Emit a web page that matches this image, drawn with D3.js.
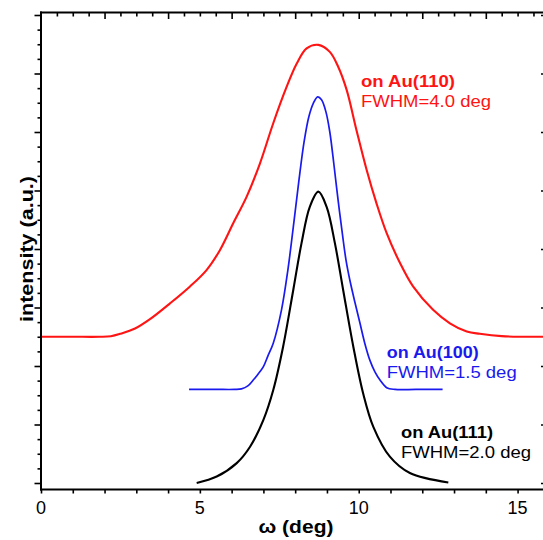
<!DOCTYPE html>
<html>
<head>
<meta charset="utf-8">
<script src="https://cdn.jsdelivr.net/npm/d3@7"></script>
<style>
  body { margin: 0; background: #fff; }
  svg { display: block; }
</style>
</head>
<body>
<div id="chart"></div>
<script>
// rocking curves, omega in deg vs intensity (a.u., offset per substrate)
var au110 = [
    [0, 2.50], [1.0, 2.50], [1.86, 2.50], [2.2, 2.51], [2.49, 2.55], [2.96, 2.64], [3.43, 2.80],
    [4.06, 3.07], [4.69, 3.36], [5.21, 3.64], [5.63, 3.98], [6.05, 4.44], [6.47, 4.89],
    [6.89, 5.46], [7.31, 6.15], [7.73, 6.77], [8.05, 7.17], [8.36, 7.43], [8.73, 7.49],
    [9.09, 7.37], [9.35, 7.12], [9.62, 6.72], [9.93, 6.03], [10.25, 5.35], [10.56, 4.78],
    [10.88, 4.27], [11.30, 3.76], [11.71, 3.36], [12.34, 2.96], [12.87, 2.73], [13.40, 2.59],
    [13.81, 2.55], [14.5, 2.51], [15.8, 2.50]
];
var au100 = [
    [4.66, 1.60], [5.5, 1.60], [6.1, 1.60], [6.31, 1.61], [6.51, 1.66], [6.68, 1.76], [6.83, 1.86],
    [7.00, 1.99], [7.14, 2.17], [7.31, 2.39], [7.57, 2.96], [7.77, 3.64], [7.96, 4.46],
    [8.12, 5.18], [8.28, 5.83], [8.43, 6.26], [8.57, 6.49], [8.71, 6.60], [8.83, 6.55],
    [8.97, 6.34], [9.09, 6.00], [9.22, 5.44], [9.35, 4.84], [9.49, 4.24], [9.60, 3.81],
    [9.72, 3.47], [9.88, 3.09], [10.04, 2.73], [10.19, 2.39], [10.35, 2.10], [10.51, 1.90],
    [10.67, 1.76], [10.88, 1.63], [11.14, 1.60], [11.8, 1.60], [12.64, 1.60]
];
var au111 = [
    [4.90, 0.00], [5.53, 0.11], [6.16, 0.34], [6.58, 0.62], [7.00, 1.08], [7.31, 1.59],
    [7.62, 2.33], [7.94, 3.30], [8.20, 4.10], [8.46, 4.72], [8.73, 4.98], [8.99, 4.72],
    [9.25, 4.10], [9.51, 3.30], [9.83, 2.33], [10.14, 1.53], [10.46, 0.96], [10.98, 0.45],
    [11.61, 0.17], [12.82, 0.01]
];

var xLabelTicks = [0, 5, 10, 15];
var xBottomTicks = d3.range(0, 16, 1);
var xTopTicks = d3.range(0.5, 16, 0.5);
var yMinorTicks = d3.range(0, 8.01, 0.25);
var yMajorTicks = d3.range(0, 9, 1);

var seriesNames = ["au110", "au100", "au111"];
var seriesColors = ["#ff1414", "#1a1aee", "#000000"];
var labelTitles = ["on Au(110)", "on Au(100)", "on Au(111)"];
var labelFwhm = ["FWHM=4.0 deg", "FWHM=1.5 deg", "FWHM=2.0 deg"];

var width = 543;
var height = 540;
var padLeft = 41, padTop = 12.5, axisBottom = 489.5;
var font = "Arial, 'Liberation Sans', sans-serif";

var svg = d3.select("#chart")
    .append("svg")
    .attr("width", width)
    .attr("height", height);

var x = d3.scaleLinear().domain([0, 15.8]).range([padLeft, 543]);
var y = d3.scaleLinear().domain([0, 8]).range([483, 15]);

// ticks
svg.append("g")
    .attr("transform", `translate(0, ${axisBottom})`)
    .call(d3.axisBottom(x).tickValues(xBottomTicks).tickSize(4).tickFormat(""))
    .call(g => g.select(".domain").remove())
    .call(g => g.selectAll("line").attr("stroke-width", 1.6));

svg.append("g")
    .attr("transform", `translate(0, ${padTop})`)
    .call(d3.axisBottom(x).tickValues(xTopTicks).tickSize(4).tickFormat(""))
    .call(g => g.select(".domain").remove())
    .call(g => g.selectAll(".tick line")
        .attr("y2", d => d % 2 === 0 ? 6.5 : 4)
        .attr("stroke-width", 1.6));

svg.append("g")
    .attr("transform", `translate(${padLeft}, 0)`)
    .call(d3.axisLeft(y).tickValues(yMinorTicks).tickSize(3).tickFormat(""))
    .call(g => g.select(".domain").remove())
    .call(g => g.selectAll(".tick line")
        .attr("x2", d => Math.abs(d - Math.round(d)) < 0.01 ? -6.5 : -3.5)
        .attr("stroke-width", 1.6));

svg.append("g")
    .attr("transform", `translate(544, 0)`)
    .call(d3.axisRight(y).tickValues(yMajorTicks).tickSize(-3).tickFormat(""))
    .call(g => g.select(".domain").remove())
    .call(g => g.selectAll("line").attr("stroke-width", 1.6));

// tick labels
svg.selectAll("text.xtick")
    .data(xLabelTicks)
    .enter()
    .append("text")
    .attr("class", "xtick")
    .attr("x", d => x(d))
    .attr("y", 514)
    .attr("text-anchor", "middle")
    .attr("font-family", font)
    .attr("font-size", "18px")
    .text(d => d);

// axis titles
svg.append("text")
    .attr("x", 296)
    .attr("y", 533)
    .attr("text-anchor", "middle")
    .attr("font-family", font)
    .attr("font-weight", "bold")
    .attr("font-size", "19px")
    .attr("textLength", 75)
    .attr("lengthAdjust", "spacingAndGlyphs")
    .text("ω (deg)");

svg.append("text")
    .attr("transform", "rotate(-90)")
    .attr("x", -249)
    .attr("y", 33)
    .attr("text-anchor", "middle")
    .attr("font-family", font)
    .attr("font-weight", "bold")
    .attr("font-size", "19px")
    .attr("textLength", 146)
    .attr("lengthAdjust", "spacingAndGlyphs")
    .text("intensity (a.u.)");

// curves
var lineGen = d3.line()
    .x(d => x(d[0]))
    .y(d => y(d[1]))
    .curve(d3.curveCatmullRom.alpha(0.5));

var seriesData = [au110, au100, au111];
seriesData.forEach(function (data, i) {
    svg.append("path")
        .datum(data)
        .attr("class", seriesNames[i])
        .attr("fill", "none")
        .attr("stroke", seriesColors[i])
        .attr("stroke-width", i === 1 ? 1.7 : 2.1)
        .attr("stroke-linejoin", "round")
        .attr("d", lineGen);
});

// labels next to each curve
var labelPos = [[361, 86.7], [386.7, 358.3], [401, 438.3]];
var titleLen = [94, 92, 92];
labelTitles.forEach(function (t, i) {
    svg.append("text")
        .attr("x", labelPos[i][0])
        .attr("y", labelPos[i][1])
        .attr("font-family", font)
        .attr("font-weight", "bold")
        .attr("font-size", "16.5px")
        .attr("fill", seriesColors[i])
        .attr("textLength", titleLen[i])
        .attr("lengthAdjust", "spacingAndGlyphs")
        .text(t);
    svg.append("text")
        .attr("x", labelPos[i][0])
        .attr("y", labelPos[i][1] + 20)
        .attr("font-family", font)
        .attr("font-size", "16.5px")
        .attr("fill", seriesColors[i])
        .attr("textLength", 130)
        .attr("lengthAdjust", "spacingAndGlyphs")
        .text(labelFwhm[i]);
});

// frame lines: left, top, bottom (drawn last so nothing sits on top of them)
var frameLines = [
    [padLeft, axisBottom + 1, padLeft, padTop - 1],
    [padLeft - 1, padTop, width, padTop],
    [padLeft - 1, axisBottom, width, axisBottom]
];
svg.selectAll("line.frame")
    .data(frameLines)
    .enter()
    .append("line")
    .attr("class", "frame")
    .attr("x1", d => d[0])
    .attr("y1", d => d[1])
    .attr("x2", d => d[2])
    .attr("y2", d => d[3])
    .attr("stroke", "black")
    .attr("stroke-width", 2);
</script>
</body>
</html>
